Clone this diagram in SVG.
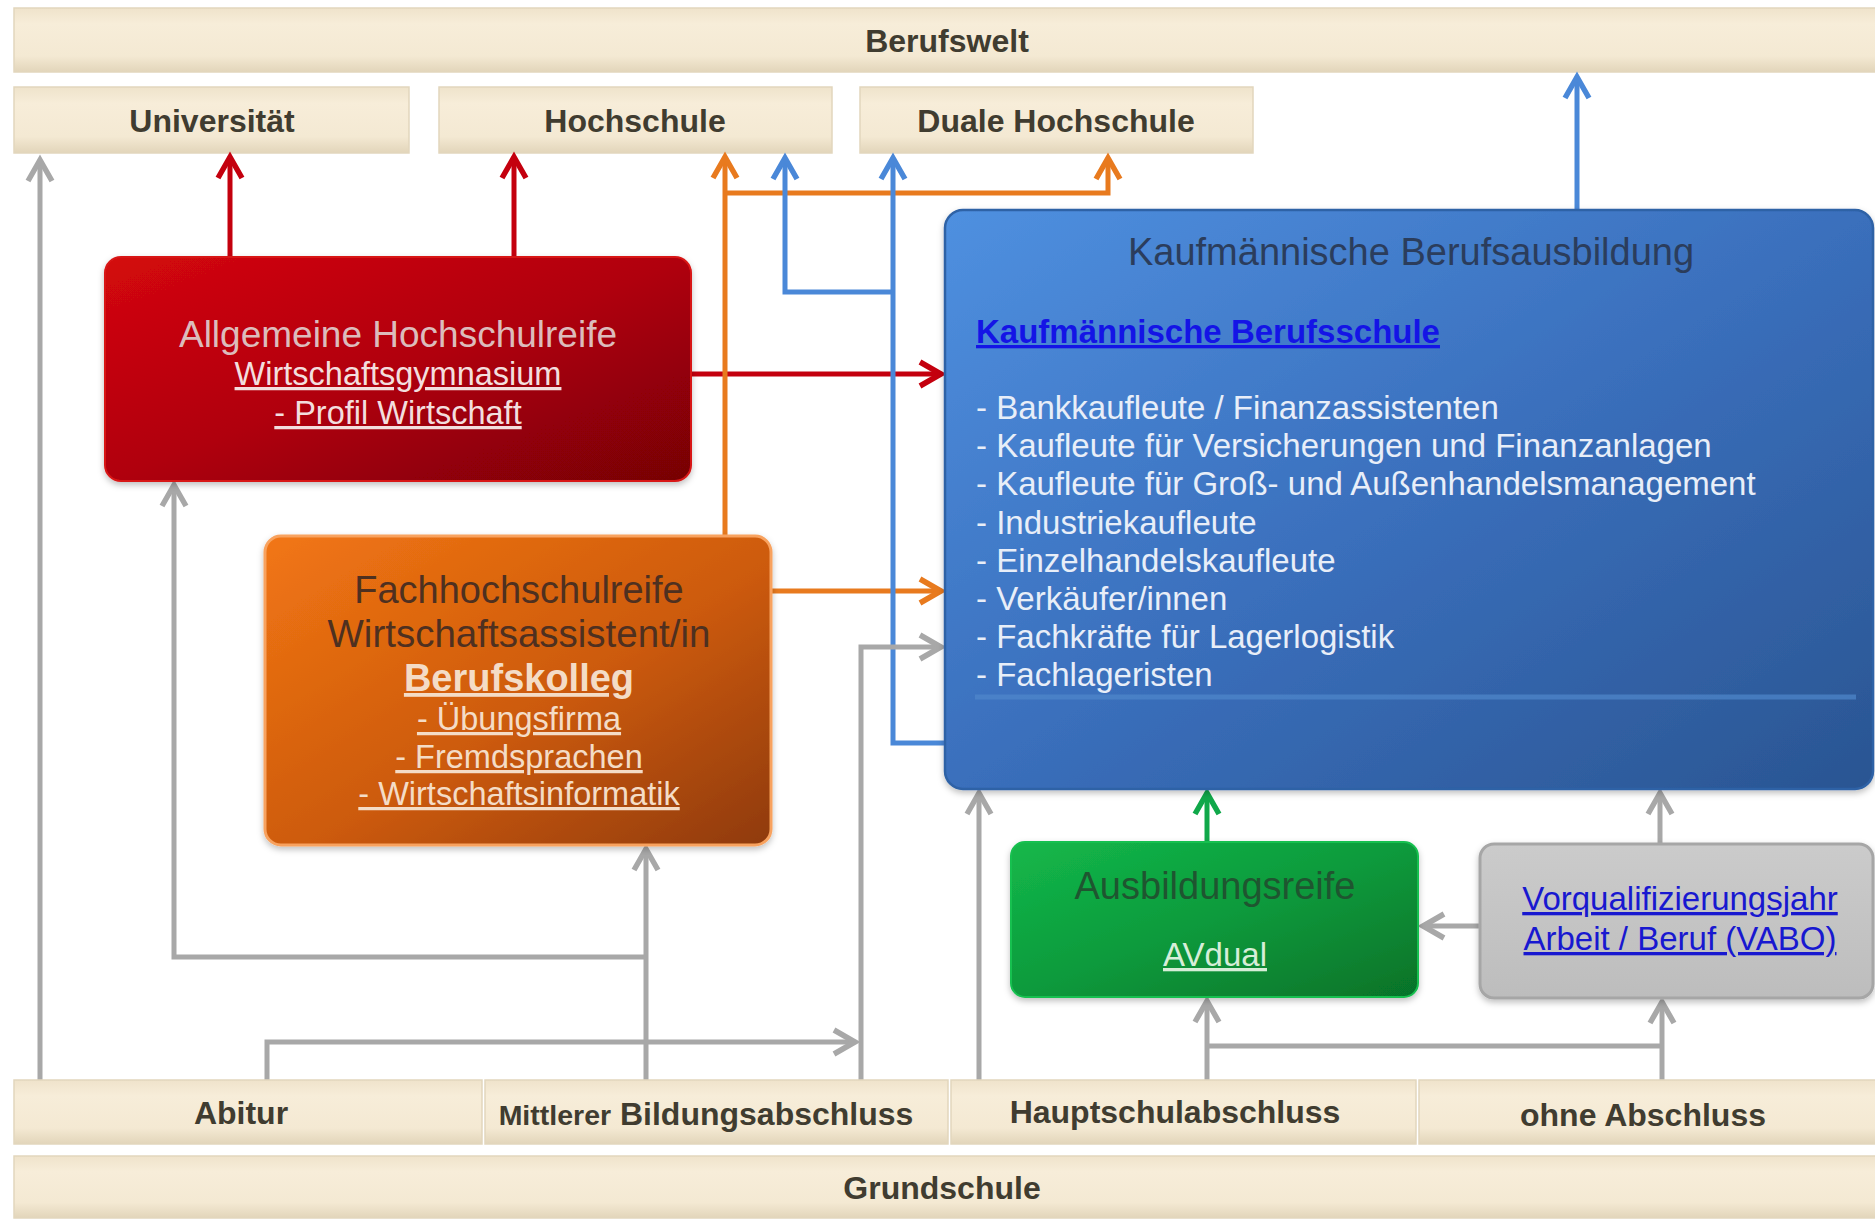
<svg xmlns="http://www.w3.org/2000/svg" width="1875" height="1220" viewBox="0 0 1875 1220">
<style>
  text { font-family: "Liberation Sans", Arial, sans-serif; }
  .bar { fill: url(#beige); stroke: #e2d6bd; stroke-width: 1.5; }
  .barTxt { font-weight: bold; font-size: 32px; fill: #403c30; text-anchor: middle; }
  .ln { fill: none; stroke-width: 5; stroke-linejoin: miter; }
  .grey { stroke: #a8a8a8; }
  .red { stroke: #c4000e; }
  .orange { stroke: #e87a1e; }
  .blue { stroke: #4a88d8; }
  .green { stroke: #10a84a; }
  .item { font-size: 33px; fill: #e8eef8; }
</style>
<defs>
  <linearGradient id="beige" x1="0" y1="0" x2="0" y2="1">
    <stop offset="0" stop-color="#efe3cb"/>
    <stop offset="0.25" stop-color="#f7edd9"/>
    <stop offset="0.75" stop-color="#f4e9d3"/>
    <stop offset="1" stop-color="#e2d5ba"/>
  </linearGradient>
  <linearGradient id="gRed" x1="0" y1="0" x2="1" y2="1">
    <stop offset="0" stop-color="#d40808"/>
    <stop offset="0.5" stop-color="#b00008"/>
    <stop offset="1" stop-color="#760006"/>
  </linearGradient>
  <linearGradient id="gOrange" x1="0" y1="0" x2="1" y2="1">
    <stop offset="0" stop-color="#f27614"/>
    <stop offset="0.55" stop-color="#cc5a0c"/>
    <stop offset="1" stop-color="#8f3a08"/>
  </linearGradient>
  <linearGradient id="gBlue" x1="0" y1="0" x2="1" y2="1">
    <stop offset="0" stop-color="#4f90e0"/>
    <stop offset="0.5" stop-color="#3a6fbc"/>
    <stop offset="1" stop-color="#2a5592"/>
  </linearGradient>
  <linearGradient id="gGreen" x1="0" y1="0" x2="1" y2="1">
    <stop offset="0" stop-color="#14b84a"/>
    <stop offset="0.5" stop-color="#0c9a3c"/>
    <stop offset="1" stop-color="#067228"/>
  </linearGradient>
  <linearGradient id="gGrey" x1="0" y1="0" x2="0" y2="1">
    <stop offset="0" stop-color="#cbcbcb"/>
    <stop offset="1" stop-color="#bdbdbd"/>
  </linearGradient>
  <filter id="sh" x="-5%" y="-5%" width="110%" height="115%">
    <feDropShadow dx="0" dy="3" stdDeviation="3" flood-color="#000" flood-opacity="0.25"/>
  </filter>
  <marker id="mGrey" viewBox="-30 -20 40 40" refX="0" refY="0" markerWidth="40" markerHeight="40" markerUnits="userSpaceOnUse" orient="auto" overflow="visible">
    <path d="M-21,-12 L0,0 L-21,12" fill="none" stroke="#a8a8a8" stroke-width="5.5"/>
  </marker>
  <marker id="mRed" viewBox="-30 -20 40 40" refX="0" refY="0" markerWidth="40" markerHeight="40" markerUnits="userSpaceOnUse" orient="auto" overflow="visible">
    <path d="M-21,-12 L0,0 L-21,12" fill="none" stroke="#c4000e" stroke-width="5.5"/>
  </marker>
  <marker id="mOrange" viewBox="-30 -20 40 40" refX="0" refY="0" markerWidth="40" markerHeight="40" markerUnits="userSpaceOnUse" orient="auto" overflow="visible">
    <path d="M-21,-12 L0,0 L-21,12" fill="none" stroke="#e87a1e" stroke-width="5.5"/>
  </marker>
  <marker id="mBlue" viewBox="-30 -20 40 40" refX="0" refY="0" markerWidth="40" markerHeight="40" markerUnits="userSpaceOnUse" orient="auto" overflow="visible">
    <path d="M-21,-12 L0,0 L-21,12" fill="none" stroke="#4a88d8" stroke-width="5.5"/>
  </marker>
  <marker id="mGreen" viewBox="-30 -20 40 40" refX="0" refY="0" markerWidth="40" markerHeight="40" markerUnits="userSpaceOnUse" orient="auto" overflow="visible">
    <path d="M-21,-12 L0,0 L-21,12" fill="none" stroke="#10a84a" stroke-width="5.5"/>
  </marker>
</defs>
<rect width="1875" height="1220" fill="#ffffff"/>

<g id="berufswelt"><rect class="bar" x="14" y="8" width="1870" height="64"/><text class="barTxt" x="947" y="52">Berufswelt</text></g>
<g id="universitaet"><rect class="bar" x="14" y="87" width="395" height="66"/><text class="barTxt" x="212" y="132">Universität</text></g>
<g id="hochschule"><rect class="bar" x="439" y="87" width="393" height="66"/><text class="barTxt" x="635" y="132">Hochschule</text></g>
<g id="duale-hochschule"><rect class="bar" x="860" y="87" width="393" height="66"/><text class="barTxt" x="1056" y="132">Duale Hochschule</text></g>

<g id="connectors">
  <!-- red -->
  <path class="ln red" d="M230,257 V157" marker-end="url(#mRed)"/>
  <path class="ln red" d="M514,257 V157" marker-end="url(#mRed)"/>
  <path class="ln red" d="M691,374 H941" marker-end="url(#mRed)"/>
  <!-- orange -->
  <path class="ln orange" d="M725,536 V157" marker-end="url(#mOrange)"/>
  <path class="ln orange" d="M725,193 H1108 V158" marker-end="url(#mOrange)"/>
  <path class="ln orange" d="M771,591 H941" marker-end="url(#mOrange)"/>
  <!-- blue -->
  <path class="ln blue" d="M945,743 H893 V158" marker-end="url(#mBlue)"/>
  <path class="ln blue" d="M893,292 H785 V158" marker-end="url(#mBlue)"/>
  <path class="ln blue" d="M1577,210 V77" marker-end="url(#mBlue)"/>
  <!-- green -->
  <path class="ln green" d="M1207,842 V793" marker-end="url(#mGreen)"/>
  <!-- grey -->
  <path class="ln grey" d="M40,1080 V160" marker-end="url(#mGrey)"/>
  <path class="ln grey" d="M267,1080 V1042 H855" marker-end="url(#mGrey)"/>
  <path class="ln grey" d="M646,1080 V849" marker-end="url(#mGrey)"/>
  <path class="ln grey" d="M646,957 H174 V485" marker-end="url(#mGrey)"/>
  <path class="ln grey" d="M861,1080 V647 H941" marker-end="url(#mGrey)"/>
  <path class="ln grey" d="M979,1080 V793" marker-end="url(#mGrey)"/>
  <path class="ln grey" d="M1207,1080 V1001" marker-end="url(#mGrey)"/>
  <path class="ln grey" d="M1207,1046 H1662"/>
  <path class="ln grey" d="M1662,1080 V1002" marker-end="url(#mGrey)"/>
  <path class="ln grey" d="M1660,844 V793" marker-end="url(#mGrey)"/>
  <path class="ln grey" d="M1480,926 H1423" marker-end="url(#mGrey)"/>
</g>

<g id="allgemeine-hochschulreife">
  <rect x="105" y="257" width="586" height="224" rx="16" fill="url(#gRed)" stroke="#d81818" stroke-width="2" filter="url(#sh)"/>
  <text x="398" y="347" text-anchor="middle" font-size="37" fill="#dcbcbc">Allgemeine Hochschulreife</text>
  <text x="398" y="385" text-anchor="middle" font-size="32.5" fill="#f3dede" text-decoration="underline">Wirtschaftsgymnasium</text>
  <text x="398" y="424" text-anchor="middle" font-size="32.5" fill="#f3dede" text-decoration="underline">- Profil Wirtschaft</text>
</g>

<g id="fachhochschulreife">
  <rect x="265" y="536" width="506" height="309" rx="16" fill="url(#gOrange)" stroke="#f8a25e" stroke-width="3" filter="url(#sh)"/>
  <text x="519" y="603" text-anchor="middle" font-size="38" fill="#4e3020">Fachhochschulreife</text>
  <text x="519" y="647" text-anchor="middle" font-size="38.5" fill="#4e3020">Wirtschaftsassistent/in</text>
  <text x="519" y="691" text-anchor="middle" font-size="38" font-weight="bold" fill="#f4dcc6" text-decoration="underline">Berufskolleg</text>
  <text x="519" y="730" text-anchor="middle" font-size="32.5" fill="#f4dcc6" text-decoration="underline">- Übungsfirma</text>
  <text x="519" y="768" text-anchor="middle" font-size="32.5" fill="#f4dcc6" text-decoration="underline">- Fremdsprachen</text>
  <text x="519" y="805" text-anchor="middle" font-size="32.5" fill="#f4dcc6" text-decoration="underline">- Wirtschaftsinformatik</text>
</g>

<g id="kaufmaennische-berufsausbildung">
  <rect x="945" y="210" width="928" height="579" rx="18" fill="url(#gBlue)" stroke="#2f62a6" stroke-width="2.5" filter="url(#sh)"/>
  <line x1="975" y1="697" x2="1856" y2="697" stroke="#5088cc" stroke-width="5" opacity="0.7"/>
  <text x="1411" y="265" text-anchor="middle" font-size="38" fill="#2b3d5c">Kaufmännische Berufsausbildung</text>
  <text x="976" y="343" font-size="33" font-weight="bold" fill="#1414e6" text-decoration="underline">Kaufmännische Berufsschule</text>
  <text class="item" x="976" y="419">- Bankkaufleute / Finanzassistenten</text>
  <text class="item" x="976" y="457">- Kaufleute für Versicherungen und Finanzanlagen</text>
  <text class="item" x="976" y="495">- Kaufleute für Groß- und Außenhandelsmanagement</text>
  <text class="item" x="976" y="534">- Industriekaufleute</text>
  <text class="item" x="976" y="572">- Einzelhandelskaufleute</text>
  <text class="item" x="976" y="610">- Verkäufer/innen</text>
  <text class="item" x="976" y="648">- Fachkräfte für Lagerlogistik</text>
  <text class="item" x="976" y="686">- Fachlageristen</text>
</g>

<g id="ausbildungsreife">
  <rect x="1011" y="842" width="407" height="155" rx="14" fill="url(#gGreen)" stroke="#18c050" stroke-width="2" filter="url(#sh)"/>
  <text x="1215" y="899" text-anchor="middle" font-size="38" fill="#1f5530">Ausbildungsreife</text>
  <text x="1215" y="966" text-anchor="middle" font-size="33" fill="#d6eed8" text-decoration="underline">AVdual</text>
</g>

<g id="vabo">
  <rect x="1480" y="844" width="393" height="154" rx="14" fill="url(#gGrey)" stroke="#a6a6a6" stroke-width="3" filter="url(#sh)"/>
  <text x="1680" y="910" text-anchor="middle" font-size="33" fill="#1818d0" text-decoration="underline">Vorqualifizierungsjahr</text>
  <text x="1680" y="950" text-anchor="middle" font-size="33" fill="#1818d0" text-decoration="underline">Arbeit / Beruf (VABO)</text>
</g>

<g id="abitur"><rect class="bar" x="14" y="1080" width="468" height="64"/><text class="barTxt" x="241" y="1124" font-size="29">Abitur</text></g>
<g id="mittlerer-bildungsabschluss"><rect class="bar" x="485" y="1080" width="463" height="64"/><text class="barTxt" x="706" y="1125" font-size="32"><tspan font-size="28.5">Mittlerer</tspan> Bildungsabschluss</text></g>
<g id="hauptschulabschluss"><rect class="bar" x="951" y="1080" width="465" height="64"/><text class="barTxt" x="1175" y="1123" font-size="29">Hauptschulabschluss</text></g>
<g id="ohne-abschluss"><rect class="bar" x="1419" y="1080" width="465" height="64"/><text class="barTxt" x="1643" y="1126" font-size="32.5">ohne Abschluss</text></g>
<g id="grundschule"><rect class="bar" x="14" y="1156" width="1870" height="62"/><text class="barTxt" x="942" y="1199">Grundschule</text></g>
</svg>
